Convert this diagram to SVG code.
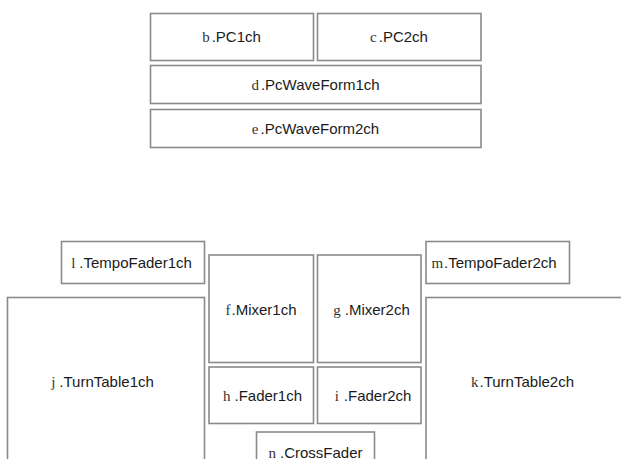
<svg xmlns="http://www.w3.org/2000/svg" width="621" height="459" viewBox="0 0 621 459">
<style>
rect{fill:#fff;stroke:#8a8a8a;stroke-width:1.6}
text{font-family:"Liberation Sans",Arial,sans-serif;font-size:15px;fill:#1a1a1a;text-anchor:middle}
.l{font-family:"Liberation Serif","Times New Roman",serif;font-size:15px;fill:#333}
</style>
<rect x="0" y="0" width="621" height="459" style="stroke:none"/>
<g id="b"><rect x="150.5" y="13.5" width="163" height="47"/><text x="231.5" y="42"><tspan class="l">b</tspan><tspan dx="2">.PC1ch</tspan></text></g>
<g id="c"><rect x="317.5" y="13.5" width="163.5" height="47"/><text x="399" y="42"><tspan class="l">c</tspan><tspan dx="2">.PC2ch</tspan></text></g>
<g id="d"><rect x="150.5" y="65.5" width="330.5" height="38"/><text x="315.5" y="89.5"><tspan class="l">d</tspan><tspan dx="2">.PcWaveForm1ch</tspan></text></g>
<g id="e"><rect x="150.5" y="109.5" width="330.5" height="38"/><text x="315.5" y="133.5"><tspan class="l">e</tspan><tspan dx="2">.PcWaveForm2ch</tspan></text></g>
<g id="l"><rect x="61.5" y="241.5" width="143" height="42"/><text x="131.5" y="268"><tspan class="l">l</tspan><tspan dx="4">.TempoFader1ch</tspan></text></g>
<g id="m"><rect x="426" y="241.5" width="143.5" height="42"/><text x="494" y="268"><tspan class="l">m</tspan><tspan dx="1">.TempoFader2ch</tspan></text></g>
<g id="j"><rect x="7.5" y="297.5" width="197" height="170"/><text x="102.5" y="387"><tspan class="l">j</tspan><tspan dx="4">.TurnTable1ch</tspan></text></g>
<g id="k"><rect x="426" y="297.5" width="200" height="170"/><text x="522.5" y="387"><tspan class="l">k</tspan><tspan dx="1">.TurnTable2ch</tspan></text></g>
<g id="f"><rect x="209" y="255" width="104.5" height="107.5"/><text x="261" y="314.5"><tspan class="l">f</tspan><tspan dx="1">.Mixer1ch</tspan></text></g>
<g id="g"><rect x="317.5" y="255" width="103.5" height="107.5"/><text x="371.5" y="314.5"><tspan class="l">g</tspan><tspan dx="4">.Mixer2ch</tspan></text></g>
<g id="h"><rect x="209" y="367" width="104.5" height="56.5"/><text x="262.5" y="400.5"><tspan class="l">h</tspan><tspan dx="4">.Fader1ch</tspan></text></g>
<g id="i"><rect x="317.5" y="367" width="103.5" height="56.5"/><text x="373" y="400.5"><tspan class="l">i</tspan><tspan dx="5">.Fader2ch</tspan></text></g>
<g id="n"><rect x="256.5" y="432" width="118" height="40"/><text x="315.5" y="457.5"><tspan class="l">n</tspan><tspan dx="4">.CrossFader</tspan></text></g>
<g id="connectors"></g>
</svg>
